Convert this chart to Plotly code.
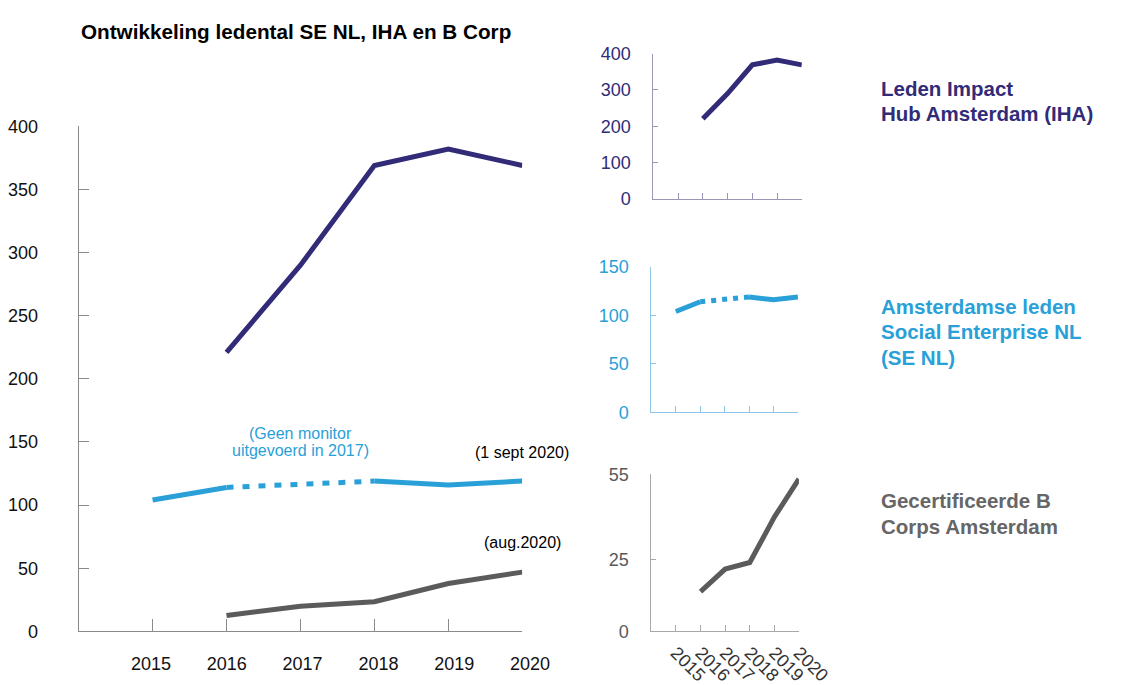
import plotly.graph_objects as go

# ---------------- data ----------------
years = [2015, 2016, 2017, 2018, 2019, 2020]
iha = [None, 221, 290, 369, 382, 369]            # Leden Impact Hub Amsterdam
se_nl = [104, 114, None, 119, 116, 119]          # Amsterdamse leden SE NL (no 2017 monitor)
bcorp = [None, 12.6, 19.8, 23.4, 37.9, 46.9]     # B Corps, main chart
bcorp_small = [None, 13.9, 21.8, 24.1, 40, 53.4] # B Corps, small panel

title = "Ontwikkeling ledental SE NL, IHA en B Corp"
year_labels = [str(y) for y in years]

C_IHA = "#312b78"
C_SE = "#2aa0d8"
C_BC = "#5b5b5b"
FONT = "Liberation Sans, Arial, sans-serif"

W, H = 1128, 685
def px(x):
    return x / W
def py(y):
    return 1 - y / H

fig = go.Figure()

# dotted bridge for SE NL over the missing 2017 value (2016 -> 2018)
gap_x = [years[1], years[3]]
gap_y = [se_nl[1], se_nl[3]]

# main chart
fig.add_trace(go.Scatter(x=years, y=iha, mode="lines", line=dict(color=C_IHA, width=5),
                         xaxis="x", yaxis="y", showlegend=False))
fig.add_trace(go.Scatter(x=years, y=se_nl, mode="lines", line=dict(color=C_SE, width=5),
                         xaxis="x", yaxis="y", showlegend=False, connectgaps=False))
fig.add_trace(go.Scatter(x=gap_x, y=gap_y, mode="lines",
                         line=dict(color=C_SE, width=5, dash="7px,9px"),
                         xaxis="x", yaxis="y", showlegend=False))
fig.add_trace(go.Scatter(x=years, y=bcorp, mode="lines", line=dict(color=C_BC, width=5),
                         xaxis="x", yaxis="y", showlegend=False))

# small panels
fig.add_trace(go.Scatter(x=years, y=iha, mode="lines", line=dict(color=C_IHA, width=5),
                         xaxis="x2", yaxis="y2", showlegend=False))
fig.add_trace(go.Scatter(x=years, y=se_nl, mode="lines", line=dict(color=C_SE, width=5),
                         xaxis="x3", yaxis="y3", showlegend=False, connectgaps=False))
fig.add_trace(go.Scatter(x=gap_x, y=gap_y, mode="lines",
                         line=dict(color=C_SE, width=5, dash="5px,6px"),
                         xaxis="x3", yaxis="y3", showlegend=False))
fig.add_trace(go.Scatter(x=years, y=bcorp_small, mode="lines", line=dict(color=C_BC, width=5),
                         xaxis="x4", yaxis="y4", showlegend=False))

def xax(domain, anchor, linecolor, ticklen, showlabels, color="#000", angle=0, standoff=18):
    return dict(domain=domain, anchor=anchor, range=[2014, 2020], tickvals=years,
                ticktext=year_labels, showticklabels=showlabels, ticks="inside",
                ticklen=ticklen, tickcolor=linecolor, showline=True, linecolor=linecolor,
                linewidth=1, showgrid=False, zeroline=False, tickangle=angle,
                ticklabelstandoff=standoff, tickfont=dict(family=FONT, size=18, color=color))

def yax(domain, anchor, rng, tickvals, linecolor, color, standoff, ticklen=8):
    return dict(domain=domain, anchor=anchor, range=rng, tickvals=tickvals,
                ticks="inside", ticklen=ticklen, tickcolor=linecolor, showline=True,
                linecolor=linecolor, linewidth=1, showgrid=False, zeroline=False,
                ticklabelstandoff=standoff, tickfont=dict(family=FONT, size=18, color=color))

fig.update_layout(
    width=W, height=H, margin=dict(l=0, r=0, t=0, b=0),
    paper_bgcolor="white", plot_bgcolor="rgba(0,0,0,0)",
    font=dict(family=FONT),
    xaxis=xax([px(81), px(538)], "y", "#8a8a8a", 12, False),
    yaxis=yax([py(641), py(120)], "x", [0, 400], [0, 50, 100, 150, 200, 250, 300, 350, 400],
              "#8a8a8a", "#111", 36, 10),
    xaxis2=xax([px(673), px(826)], "y2", "#9a96b8", 6, False),
    yaxis2=yax([py(195), py(45)], "x2", [0, 400], [0, 100, 200, 300, 400], "#9a96b8", C_IHA, 18, 5),
    xaxis3=xax([px(671), px(822)], "y3", "#8fc8e6", 6, False),
    yaxis3=yax([py(415), py(265)], "x3", [0, 150], [0, 50, 100, 150], "#8fc8e6", C_SE, 18, 5),
    xaxis4=xax([px(671), px(823)], "y4", "#a8a8a8", 6, True, "#333", 45, 3),
    yaxis4=yax([py(641), py(479)], "x4", [0, 55], [0, 25, 55], "#a8a8a8", "#595959", 18, 5),
    # label-only axis for the main chart's year labels (labels are spaced slightly wider than ticks)
    xaxis5=dict(domain=[px(81), px(600)], anchor="y", range=[2014.046, 2014.046 + 519 / 78.1],
                tickvals=years, ticktext=year_labels, showline=False, ticks="",
                showgrid=False, zeroline=False, ticklabelstandoff=20,
                tickfont=dict(family=FONT, size=18, color="#111")),
)
# invisible trace so that the label axis is drawn
fig.add_trace(go.Scatter(x=years, y=[None] * len(years), mode="lines", xaxis="x5", yaxis="y",
                         showlegend=False, hoverinfo="skip"))

ann = []
ann.append(dict(text="<b>" + title + "</b>", x=px(81), y=py(22), xref="paper", yref="paper",
                xanchor="left", yanchor="middle", showarrow=False,
                font=dict(family=FONT, size=20.7, color="#000")))

right_labels = [
    ("Leden Impact", 81, C_IHA), ("Hub Amsterdam (IHA)", 107, C_IHA),
    ("Amsterdamse leden", 306, C_SE), ("Social Enterprise NL", 332, C_SE), ("(SE NL)", 358, C_SE),
    ("Gecertificeerde B", 506, "#666666"), ("Corps Amsterdam", 533, "#666666"),
]
for t, yy, c in right_labels:
    ann.append(dict(text="<b>" + t + "</b>", x=px(905), y=py(yy), xref="paper", yref="paper",
                    xanchor="left", yanchor="middle", showarrow=False,
                    font=dict(family=FONT, size=20.5, color=c)))

ann.append(dict(text="(Geen monitor", x=2017, y=(641 - 437) / 1.3025, xref="x", yref="y",
                showarrow=False, xanchor="center", yanchor="middle",
                font=dict(family=FONT, size=16, color=C_SE)))
ann.append(dict(text="uitgevoerd in 2017)", x=2017, y=(641 - 454) / 1.3025, xref="x", yref="y",
                showarrow=False, xanchor="center", yanchor="middle",
                font=dict(family=FONT, size=16, color=C_SE)))
ann.append(dict(text="(1 sept 2020)", x=2020, y=(641 - 456) / 1.3025, xref="x", yref="y",
                showarrow=False, xanchor="center", yanchor="middle",
                font=dict(family=FONT, size=16, color="#000")))
ann.append(dict(text="(aug.2020)", x=2020, y=(641 - 549) / 1.3025, xref="x", yref="y",
                showarrow=False, xanchor="center", yanchor="middle",
                font=dict(family=FONT, size=16, color="#000")))
fig.update_layout(annotations=ann)

fig.write_html("out.html")
